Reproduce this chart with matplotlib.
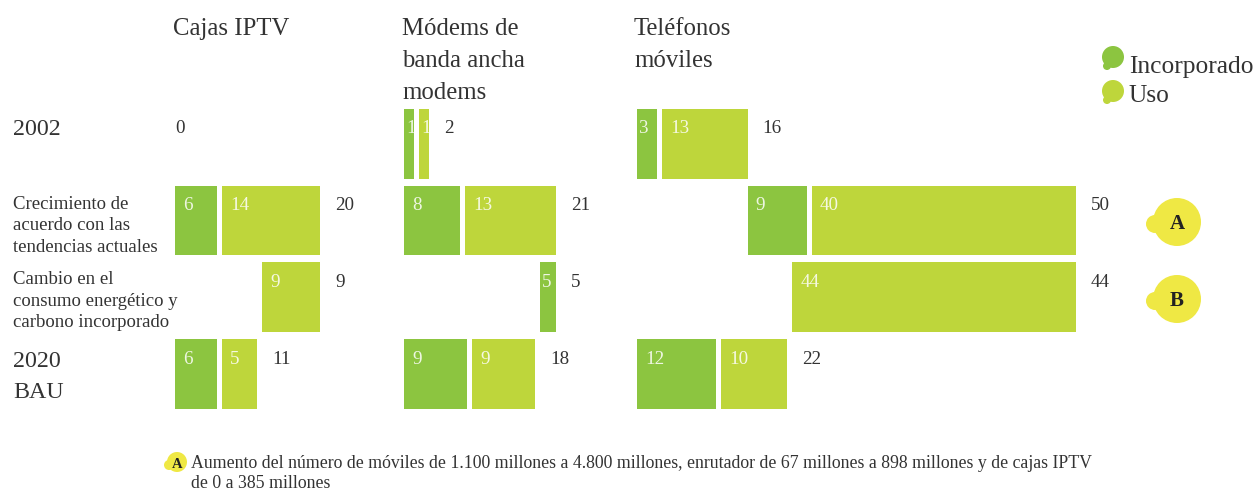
import matplotlib.pyplot as plt
from matplotlib.patches import Circle

plt.rcParams['font.family'] = ['Liberation Serif', 'DejaVu Serif']

# data
columns = ['Cajas IPTV', 'Módems de\nbanda ancha\nmodems', 'Teléfonos\nmóviles']
row_labels = ['2002',
              'Crecimiento de\nacuerdo con las\ntendencias actuales',
              'Cambio en el\nconsumo energético y\ncarbono incorporado',
              '2020\nBAU']
inc_2002 = [0, 1, 3]
uso_2002 = [0, 1, 13]
total_2002 = [0, 2, 16]
inc_growth = [6, 8, 9]
uso_growth = [14, 13, 40]
total_growth = [20, 21, 50]
growth_after_2002 = [True, False, True]   # modems growth bar is drawn from zero
cambio = [9, 5, 44]
cambio_kind = ['uso', 'inc', 'uso']
inc_2020 = [6, 9, 12]
uso_2020 = [5, 9, 10]
total_2020 = [11, 18, 22]

legend_labels = ['Incorporado', 'Uso']
note_a = ('Aumento del número de móviles de 1.100 millones a 4.800 millones, enrutador de 67 millones a 898 millones y de cajas IPTV\n'
          'de 0 a 385 millones')

C_INC = '#8cc540'
C_USO = '#bed63b'
C_YEL = '#efe844'
C_TXT = '#333333'

W, H = 1258, 489
fig = plt.figure(figsize=(W / 100, H / 100), dpi=100)

# column layout in pixels: origin, px per unit, width
col_left = [175, 404, 637]
col_scale = [7.0, 7.0, 6.6]
col_width = [215, 215, 500]
row_top, row_pitch = 106.5, 76.7
bar_h = 0.91
px = 0.72  # points per pixel
min_px = 10  # thinnest bar drawn

ybot = row_top + 4 * row_pitch


def val_label(ax, x, r, text, dx, color=C_TXT):
    ax.annotate(text, xy=(x, r - bar_h / 2), xytext=(dx * px, -23.5 * px),
                textcoords='offset points', ha='left', va='baseline',
                fontsize=13.7, color=color)


for i in range(3):
    scale = col_scale[i]
    ax = fig.add_axes([col_left[i] / W, 1 - ybot / H, col_width[i] / W, 4 * row_pitch / H])
    ax.set_xlim(0, col_width[i] / scale)
    ax.set_ylim(3.5, -0.5)
    ax.axis('off')
    gap = 5 / scale

    def bar(r, left, width, color, text):
        width = max(width, min_px / scale)
        ax.barh(r, width, left=left, height=bar_h, color=color, linewidth=0)
        dx = 8 if width * scale > 25 else 2
        val_label(ax, left, r, text, dx, color=(1, 1, 1, 0.85))
        return width

    def draw_row(r, start, inc, uso):
        x = start
        segs = [(v, c) for v, c in [(inc, C_INC), (uso, C_USO)] if v > 0]
        for k, (v, c) in enumerate(segs):
            if k:
                x += gap
            x += bar(r, x, v, c, str(v))
        return x

    end02 = draw_row(0, 0, inc_2002[i], uso_2002[i])
    val_label(ax, end02, 0, str(total_2002[i]), 15 if total_2002[i] else 0)

    start_g = end02 if growth_after_2002[i] else 0
    end_g = draw_row(1, start_g, inc_growth[i], uso_growth[i])
    val_label(ax, end_g, 1, str(total_growth[i]), 15)

    end20 = draw_row(3, 0, inc_2020[i], uso_2020[i])
    val_label(ax, end20, 3, str(total_2020[i]), 15)

    c_left = end20 + gap
    bar(2, c_left, end_g - c_left, C_INC if cambio_kind[i] == 'inc' else C_USO, str(cambio[i]))
    val_label(ax, end_g, 2, str(cambio[i]), 15)

# overlay in pixel coordinates for text and markers
ov = fig.add_axes([0, 0, 1, 1])
ov.set_xlim(0, W)
ov.set_ylim(H, 0)
ov.axis('off')


def lines(x, y0, text, step, size, **kw):
    for k, line in enumerate(text.split('\n')):
        ov.text(x, y0 + k * step, line, ha='left', va='baseline', fontsize=size, color=C_TXT, **kw)


title_x = [173, 402, 634]
for i in range(3):
    lines(title_x[i], 35, columns[i], 32, 17.8)

lines(13, 135, row_labels[0], 31, 17.3)
lines(13, 209, row_labels[1], 21.5, 13.5)
lines(13, 284, row_labels[2], 21.5, 13.5)
lines(13, 367, row_labels[3], 31, 17.3)

# legend
for lab, col, cy, base in zip(legend_labels, [C_INC, C_USO], [58, 92], [73, 102]):
    ov.add_patch(Circle((1113, cy), 11, color=col, lw=0))
    ov.add_patch(Circle((1107, cy + 9), 4, color=col, lw=0))
    ov.text(1129, base, lab, ha='left', va='baseline', fontsize=18.4, color=C_TXT)

# A / B markers
for lab, cy in [('A', 223), ('B', 300)]:
    ov.add_patch(Circle((1177, cy), 24, color=C_YEL, lw=0))
    ov.add_patch(Circle((1155, cy + 2), 9, color=C_YEL, lw=0))
    ov.text(1177, cy + 1, lab, ha='center', va='center', fontsize=15, fontweight='bold', color='#222222')

# footnote
ov.add_patch(Circle((177, 463), 10, color=C_YEL, lw=0))
ov.add_patch(Circle((169, 466), 5, color=C_YEL, lw=0))
ov.text(177, 464, 'A', ha='center', va='center', fontsize=10.5, fontweight='bold', color='#222222')
lines(191, 468, note_a, 19.5, 12.8)

plt.savefig('out.png', dpi=100)
